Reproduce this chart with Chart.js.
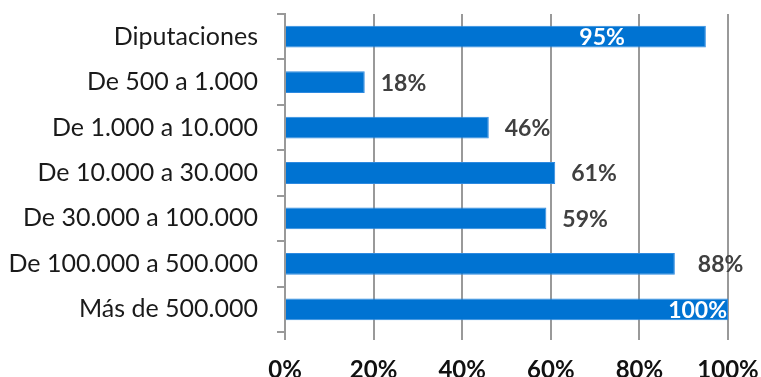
<!DOCTYPE html>
<html>
<head>
<meta charset="utf-8">
<script src="https://cdn.jsdelivr.net/npm/chart.js@4"></script>
<style>
  html, body { margin: 0; padding: 0; background: #fff; }
  #wrap { width: 761px; height: 377px; }
</style>
</head>
<body>
<div id="wrap"><canvas id="myChart" width="761" height="377"></canvas></div>
<script>
const categories = [
  "Diputaciones",
  "De 500 a 1.000",
  "De 1.000 a 10.000",
  "De 10.000 a 30.000",
  "De 30.000 a 100.000",
  "De 100.000 a 500.000",
  "Más de 500.000",
];
const values = [95, 18, 46, 61, 59, 88, 100];
const tickLabels = ["0%", "20%", "40%", "60%", "80%", "100%"];

const FONT = "Lato, 'Open Sans', sans-serif";

// value labels: outside the bar end in grey, or inside in white for the long bars
const valueLabels = {
  id: "valueLabels",
  afterDatasetsDraw(chart, args, opts) {
    const ctx = chart.ctx;
    const meta = chart.getDatasetMeta(0);
    ctx.save();
    ctx.font = "bold 23px " + FONT;
    ctx.textBaseline = "middle";
    meta.data.forEach((bar, i) => {
      const text = values[i] + "%";
      const inside = opts.inside[i];
      if (inside !== undefined) {
        ctx.fillStyle = "#ffffff";
        ctx.textAlign = "right";
        ctx.fillText(text, bar.x + inside, bar.y + 1);
      } else {
        ctx.fillStyle = "#404040";
        ctx.textAlign = "left";
        ctx.fillText(text, bar.x + (opts.gap[i] || 16), bar.y + 1);
      }
    });
    ctx.restore();
  },
};

const info = {
  labels: categories,
  datasets: [
    {
      data: values,
      backgroundColor: "#0073d2",
      borderColor: "#2e8ae0",
      borderWidth: 1,
      borderSkipped: "start",
      barPercentage: 0.48,
      categoryPercentage: 1,
    },
  ],
};

const options = {
  indexAxis: "y",
  responsive: false,
  animation: false,
  layout: { padding: { top: 14, right: 33, left: 0, bottom: 0 } },
  scales: {
    x: {
      min: 0,
      max: 100,
      ticks: {
        stepSize: 20,
        color: "#111",
        font: { family: FONT, size: 24, weight: "bold" },
        padding: 16,
        callback: (v, i) => tickLabels[i],
      },
      grid: {
        color: "#999",
        lineWidth: 2,
        tickLength: 8,
        tickColor: "#999",
      },
      border: { display: false },
      afterFit: (scale) => {
        scale.height = 45;
        scale.paddingLeft = 0;
        scale.paddingRight = 0;
      },
    },
    y: {
      ticks: {
        color: "#1a1a1a",
        font: { family: FONT, size: 25 },
        padding: 19,
      },
      grid: {
        drawOnChartArea: false,
        tickLength: 8,
        color: "#999",
        lineWidth: 2,
      },
      border: { color: "#999", width: 2 },
      afterFit: (scale) => {
        scale.width = 285;
        scale.paddingTop = 0;
        scale.paddingBottom = 0;
      },
    },
  },
  plugins: {
    legend: { display: false },
    tooltip: { enabled: false },
    valueLabels: {
      inside: { 0: -81, 6: -1 },
      gap: { 5: 23 },
    },
  },
};

new Chart(document.getElementById("myChart"), {
  type: "bar",
  data: info,
  options,
  plugins: [valueLabels],
});
</script>
</body>
</html>
